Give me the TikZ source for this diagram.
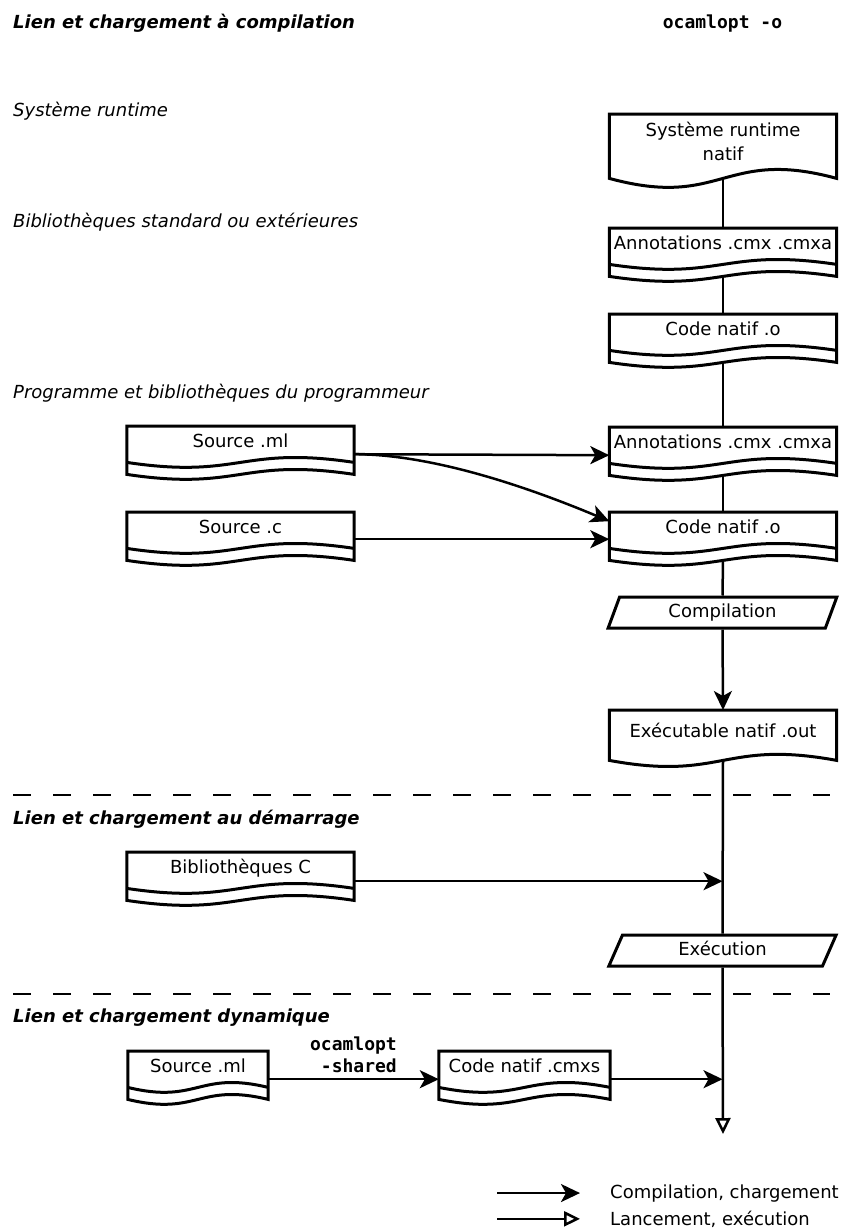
\documentclass[tikz,border=0pt]{standalone}
\usepackage{fontspec}
\setmainfont{DejaVu Sans}
\setmonofont{DejaVu Sans Mono}
\usetikzlibrary{arrows.meta,calc,shapes.geometric}

\tikzset{
  every node/.style={inner sep=0pt, font=\fontsize{18}{24}\selectfont},
  outline/.style={line width=3pt, line join=miter},
  conn/.style={line width=2.5pt},
  flow/.style={conn, -{Stealth[length=19pt,width=18pt,inset=5pt]}},
  launch/.style={conn, -{Triangle[open,length=16pt,width=15pt,line width=2.5pt]}},
  docbox/.style={anchor=north, minimum width=#1},
  multidoc/.style={docbox=#1, text height=21pt, text depth=27pt},
  stepbox/.style={trapezium, trapezium left angle=70.5, trapezium right angle=109.5,
    trapezium stretches=true, draw, outline, minimum width=229pt, minimum height=31pt,
    text height=13pt, text depth=4pt},
  heading/.style={anchor=base west, font=\fontsize{18}{24}\selectfont\bfseries\itshape},
  section/.style={anchor=base west, font=\fontsize{18}{24}\selectfont\itshape},
  cmd/.style={font=\fontsize{18}{22}\selectfont\ttfamily\bfseries},
  legendtext/.style={anchor=base west},
  sep/.style={line width=2.6pt, dash pattern=on 18pt off 22pt},
}

% stacked documents: straight top, wavy bottom and a second wave above it
\newcommand\multidocoutline[1]{%
  \draw[outline] (#1.south east)
    .. controls ([yshift=17pt]#1.south) and ([yshift=-17pt]#1.south) .. (#1.south west)
    -- (#1.north west) -- (#1.north east) -- cycle;
  \draw[outline] ([yshift=12pt]#1.south west)
    .. controls ([yshift=-5pt]#1.south) and ([yshift=29pt]#1.south) .. ([yshift=12pt]#1.south east);
}
% single document: straight top, wavy bottom
\newcommand\docoutline[2]{%
  \draw[outline] (#2.south east)
    .. controls ([yshift=#1]#2.south) and ([yshift=-#1]#2.south) .. (#2.south west)
    -- (#2.north west) -- (#2.north east) -- cycle;
}

\begin{document}
\begin{tikzpicture}[x=1pt,y=-1pt]
\useasboundingbox (0,0) rectangle (844,1232);

% section titles
\node[heading] (t1) at (13,28) {Lien et chargement à compilation};
\node[cmd, anchor=base] (t1cmd) at (722.5,28) {ocamlopt -o};
\node[section] (s1) at (13,116) {Système runtime};
\node[section] (s2) at (13,227) {Bibliothèques standard ou extérieures};
\node[section] (s3) at (13,398) {Programme et bibliothèques du programmeur};
\node[heading] (t2) at (13,824) {Lien et chargement au démarrage};
\node[heading] (t3) at (13,1022) {Lien et chargement dynamique};

% separators
\draw[sep] (13,795) -- (830,795);
\draw[sep] (13,994) -- (830,994);

% main column
\node[docbox=227pt, align=center, text height=46pt, text depth=18pt] (sys) at (723,114) {Système runtime\\natif};
\node[multidoc=227pt] (ann1) at (723,228) {Annotations .cmx .cmxa};
\node[multidoc=227pt] (code1) at (723,314) {Code natif .o};
\node[multidoc=227pt] (ann2) at (723,427) {Annotations .cmx .cmxa};
\node[multidoc=227pt] (code2) at (723,512) {Code natif .o};
\node[stepbox] (comp) at (722.5,612.5) {Compilation};
\node[docbox=227pt, text height=27pt, text depth=23pt] (exe) at (723,710) {Exécutable natif .out};
\node[stepbox] (exec) at (722.5,950.5) {Exécution};
\coordinate (run) at (723,1134);

\docoutline{31pt}{sys}
\multidocoutline{ann1}
\multidocoutline{code1}
\multidocoutline{ann2}
\multidocoutline{code2}
\docoutline{21pt}{exe}

% program sources
\node[multidoc=227pt] (sml) at (240.5,426) {Source .ml};
\node[multidoc=227pt] (sc) at (240.5,512) {Source .c};
\node[multidoc=227pt] (bibc) at (240.5,852) {Bibliothèques C};
\node[multidoc=140pt] (dsrc) at (198,1051) {Source .ml};
\node[multidoc=171pt] (cmxs) at (524.5,1051) {Code natif .cmxs};
\multidocoutline{sml}
\multidocoutline{sc}
\multidocoutline{bibc}
\multidocoutline{dsrc}
\multidocoutline{cmxs}

% main flow
\draw[conn] (sys.south) -- (ann1.north);
\draw[conn] (ann1.south) -- (code1.north);
\draw[conn] (code1.south) -- (ann2.north);
\draw[conn] (ann2.south) -- (code2.north);
\draw[conn] (code2.south) -- (comp.north);
\draw[flow] (comp.south) -- (exe.north);
\draw[conn] (exe.south) -- (exec.north);
\draw[launch] (exec.south) -- (run);

% inputs
\draw[flow] ([yshift=-4pt]sml.east) -- ([yshift=-4pt]ann2.west);
\draw[flow] ([yshift=-4pt]sml.east) .. controls +(90pt,0pt) and +(-55pt,23pt) .. ([yshift=15pt]code2.west);
\draw[flow] ([yshift=-3pt]sc.east) -- ([yshift=-3pt]code2.west);
\draw[flow] ([yshift=-5pt]bibc.east) -- ([yshift=-5pt]bibc.east -| exec.north);
\draw[flow] ([yshift=-4pt]dsrc.east) -- ([yshift=-4pt]cmxs.west);
\draw[flow] ([yshift=-4pt]cmxs.east) -- ([yshift=-4pt]cmxs.east -| exec.south);
\node[cmd, align=right, anchor=north east] (shared) at (397,1036.5) {ocamlopt\\-shared};

% legend
\node[legendtext] (lg1) at (610,1198) {Compilation, chargement};
\node[legendtext] (lg2) at (610,1225) {Lancement, exécution};
\draw[flow] ([xshift=-113pt]lg1.west) -- ([xshift=-30pt]lg1.west);
\draw[launch] ([xshift=-113pt]lg2.west) -- ([xshift=-30pt]lg2.west);
\end{tikzpicture}
\end{document}
